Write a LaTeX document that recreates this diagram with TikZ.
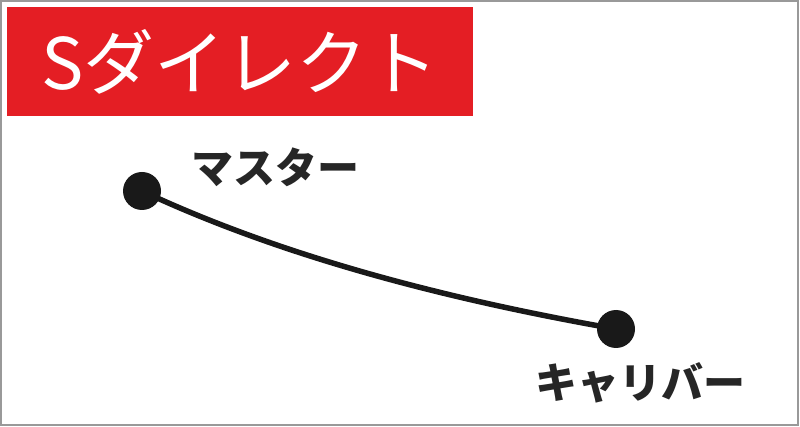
\documentclass[tikz,border=0pt]{standalone}
\usepackage{fontspec}
\newfontfamily\jp{Noto Sans CJK JP}
\begin{document}
\begin{tikzpicture}[x=1pt,y=-1pt,
  dot/.style={circle,fill=black!90,inner sep=0pt,minimum size=38pt},
  lbl/.style={font=\jp\bfseries\fontsize{42}{42}\selectfont,text=black!85,inner sep=0pt}]
\useasboundingbox (0,0) rectangle (800,427);
\fill[white] (0,0) rectangle (800,427);
\draw[black!40,line width=1.2pt] (1,1) rectangle (798,425);
\fill[fill={rgb,255:red,228;green,30;blue,36}] (7,7) rectangle (473,116);
\node[font=\jp\fontsize{71}{71}\selectfont,text=white,inner sep=0pt] (title) at (240,62) {Sダイレクト};
\node[dot] (m) at (142,191) {};
\node[dot] (c) at (616,329) {};
\draw[line width=5.5pt,black!90] (m.center) .. controls (300,265) and (480,305) .. (c.center);
\node[lbl] (ml) at (275,167) {マスター};
\node[lbl] (cl) at (640,383) {キャリバー};
\end{tikzpicture}
\end{document}
